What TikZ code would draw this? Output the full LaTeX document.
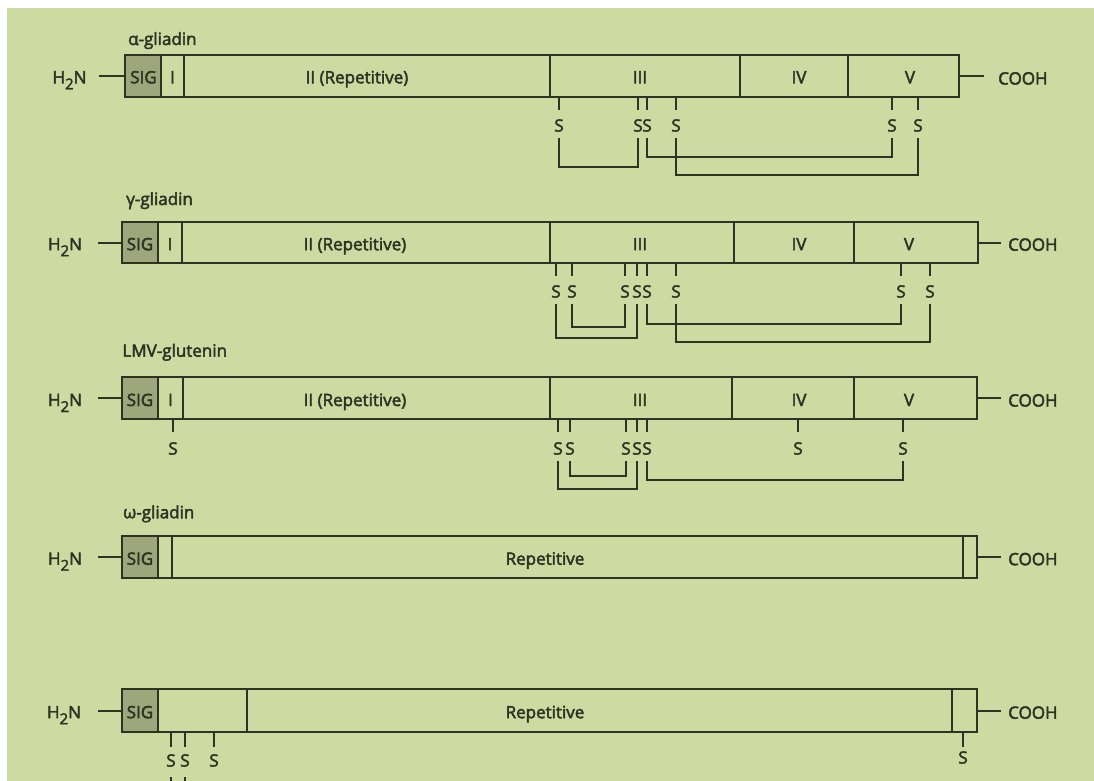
\documentclass[tikz,border=0pt]{standalone}
\usepackage{fontspec}
\setmainfont{Open Sans}[FakeBold=2.6]
\usetikzlibrary{fit}
\definecolor{bggreen}{HTML}{CDDBA3}
\definecolor{sigfill}{HTML}{9EA67B}
\definecolor{ink}{HTML}{2E3222}
% one domain of a protein bar: name, x-left, x-right, top, bottom, style
\newcommand{\domainbox}[6]{\node[#6, fit={(#2,#4) (#3,#5)}] (#1) {};}
\newcommand{\htwon}{H\raisebox{-6pt}{\fontsize{15}{15}\selectfont 2}N}
\begin{document}
\begin{tikzpicture}[x=1pt,y=-1pt,
  seg/.style={draw=ink, line width=2pt, inner sep=0pt, outer sep=0pt},
  sig/.style={seg, fill=sigfill},
  txt/.style={font=\fontsize{17}{19}\selectfont, text=ink, inner sep=0pt, anchor=base},
  ttl/.style={txt, anchor=base west},
  slab/.style={font=\fontsize{17}{19}\selectfont, text=ink, inner sep=0pt, minimum height=25pt},
  link/.style={draw=ink, line width=2pt},
]
\useasboundingbox (0,0) rectangle (1094,781);
\fill[white] (0,0) rectangle (1094,781);
\fill[bggreen] (7,8) rectangle (1094,781);
\clip (0,0) rectangle (1094,781);

% ---------------- alpha-gliadin ----------------
\node[ttl] (ta) at (128,45) {α-gliadin};
\domainbox{a0}{125}{161}{55}{97}{sig}
\domainbox{a1}{161}{184}{55}{97}{seg}
\domainbox{a2}{184}{550}{55}{97}{seg}
\domainbox{a3}{550}{740}{55}{97}{seg}
\domainbox{a4}{740}{848}{55}{97}{seg}
\domainbox{a5}{848}{959}{55}{97}{seg}
\node[txt] (a0t) at (143.5,83.3) {SIG};
\node[txt] (a1t) at (172.5,83.3) {I};
\node[txt] (a2t) at (357,83.3) {II (Repetitive)};
\node[txt] (a3t) at (640,83.3) {III};
\node[txt] (a4t) at (799,83.3) {IV};
\node[txt] (a5t) at (910,83.3) {V};
\node[txt] (ah) at (69.5,83.3) {\htwon};
\node[ttl] (ac) at (998,84.5) {COOH};
\draw[link] (a0.west) -- ++(-26,0);
\draw[link] (a5.east) -- ++(25,0);
\foreach \n/\x in {1/559,2/638,3/647,4/676,5/892,6/918}{
  \node[slab] (sa\n) at (\x,125.5) {S};
  \draw[link] (sa\n |- a3.south) -- ++(0,13);
}
\draw[link] (sa1.south) -- ++(0,29) -| (sa2.south);
\draw[link] (sa3.south) -- ++(0,19) -| (sa5.south);
\draw[link] (sa4.south) -- ++(0,37) -| (sa6.south);

% ---------------- gamma-gliadin ----------------
\node[ttl] (tb) at (126,205) {γ-gliadin};
\domainbox{b0}{122}{158}{222}{263}{sig}
\domainbox{b1}{158}{182}{222}{263}{seg}
\domainbox{b2}{182}{550}{222}{263}{seg}
\domainbox{b3}{550}{734}{222}{263}{seg}
\domainbox{b4}{734}{854}{222}{263}{seg}
\domainbox{b5}{854}{978}{222}{263}{seg}
\node[txt] (b0t) at (140,250.2) {SIG};
\node[txt] (b1t) at (170,250.2) {I};
\node[txt] (b2t) at (355,250.2) {II (Repetitive)};
\node[txt] (b3t) at (640,250.2) {III};
\node[txt] (b4t) at (799,250.2) {IV};
\node[txt] (b5t) at (909,250.2) {V};
\node[txt] (bh) at (65,250.2) {\htwon};
\node[ttl] (bc) at (1008,250.7) {COOH};
\draw[link] (b0.west) -- ++(-24,0);
\draw[link] (b5.east) -- ++(23,0);
\foreach \n/\x in {1/556,2/572,3/625,4/637,5/647,6/676,7/901,8/930}{
  \node[slab] (sb\n) at (\x,291.5) {S};
  \draw[link] (sb\n |- b3.south) -- ++(0,13);
}
\draw[link] (sb2.south) -- ++(0,23) -| (sb3.south);
\draw[link] (sb1.south) -- ++(0,34) -| (sb4.south);
\draw[link] (sb5.south) -- ++(0,20) -| (sb7.south);
\draw[link] (sb6.south) -- ++(0,38) -| (sb8.south);

% ---------------- LMV-glutenin ----------------
\node[ttl] (tc) at (122.3,356.7) {LMV-glutenin};
\domainbox{c0}{122}{158}{377}{419}{sig}
\domainbox{c1}{158}{183}{377}{419}{seg}
\domainbox{c2}{183}{550}{377}{419}{seg}
\domainbox{c3}{550}{732}{377}{419}{seg}
\domainbox{c4}{732}{854}{377}{419}{seg}
\domainbox{c5}{854}{977}{377}{419}{seg}
\node[txt] (c0t) at (140,406) {SIG};
\node[txt] (c1t) at (170.5,406) {I};
\node[txt] (c2t) at (355,406) {II (Repetitive)};
\node[txt] (c3t) at (640,406) {III};
\node[txt] (c4t) at (799,406) {IV};
\node[txt] (c5t) at (909,406) {V};
\node[txt] (ch) at (65,406) {\htwon};
\node[ttl] (cc) at (1008,406.5) {COOH};
\draw[link] (c0.west) -- ++(-24,0);
\draw[link] (c5.east) -- ++(24,0);
\node[slab] (sc0) at (173,448.5) {S};
\draw[link] (sc0 |- c1.south) -- ++(0,13);
\foreach \n/\x in {1/558,2/570,3/626,4/637,5/647,6/798,7/903}{
  \node[slab] (sc\n) at (\x,448.5) {S};
  \draw[link] (sc\n |- c3.south) -- ++(0,13);
}
\draw[link] (sc2.south) -- ++(0,15) -| (sc3.south);
\draw[link] (sc1.south) -- ++(0,28) -| (sc4.south);
\draw[link] (sc5.south) -- ++(0,19) -| (sc7.south);

% ---------------- omega-gliadin ----------------
\node[ttl] (td) at (123,518.3) {ω-gliadin};
\domainbox{d0}{122}{158}{536}{578}{sig}
\domainbox{d1}{158}{172}{536}{578}{seg}
\domainbox{d2}{172}{963}{536}{578}{seg}
\domainbox{d3}{963}{977}{536}{578}{seg}
\node[txt] (d0t) at (140,564.7) {SIG};
\node[txt] (d2t) at (545,564.7) {Repetitive};
\node[txt] (dh) at (65,564.7) {\htwon};
\node[ttl] (dc) at (1008,565.2) {COOH};
\draw[link] (d0.west) -- ++(-24,0);
\draw[link] (d3.east) -- ++(24,0);

% ---------------- unnamed fifth protein ----------------
\domainbox{e0}{122}{158}{689}{732}{sig}
\domainbox{e1}{158}{247}{689}{732}{seg}
\domainbox{e2}{247}{952}{689}{732}{seg}
\domainbox{e3}{952}{977}{689}{732}{seg}
\node[txt] (e0t) at (140,718.2) {SIG};
\node[txt] (e2t) at (545,718.2) {Repetitive};
\node[txt] (eh) at (64,718.2) {\htwon};
\node[ttl] (ec) at (1008,718.7) {COOH};
\draw[link] (e0.west) -- ++(-24,0);
\draw[link] (e3.east) -- ++(24,0);
\foreach \n/\x in {1/171,2/185,3/214}{
  \node[slab] (se\n) at (\x,760.5) {S};
  \draw[link] (se\n |- e1.south) -- ++(0,15);
}
\node[slab] (se4) at (963,757.5) {S};
\draw[link] (se4 |- e3.south) -- ++(0,15);
\draw[link] (se1.south) ++(0,4) -- ++(0,20);
\draw[link] (se2.south) ++(0,4) -- ++(0,20);
\end{tikzpicture}
\end{document}
